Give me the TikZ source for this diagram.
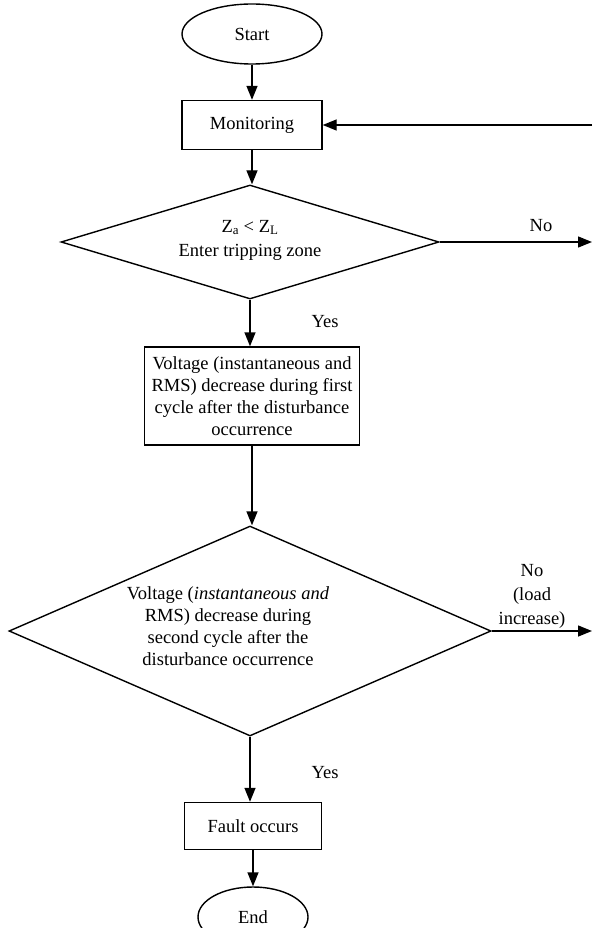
\documentclass[tikz,border=0pt]{standalone}
\usepackage{fontspec}
\setmainfont{Liberation Serif}
\usetikzlibrary{shapes.geometric,arrows.meta}
\begin{document}
\begin{tikzpicture}[x=1pt,y=-1pt,
  every node/.style={font=\fontsize{18.5}{22}\selectfont},
  term/.style={draw,ellipse,line width=1.4pt,inner sep=0pt},
  proc/.style={draw,rectangle,line width=1.4pt,inner sep=0pt,align=center},
  dec/.style={draw,diamond,line width=1.4pt,inner sep=0pt},
  txt/.style={align=center,inner sep=0pt},
  arr/.style={line width=1.4pt,-{Triangle[length=14pt,width=11pt]}}]
\useasboundingbox (0,0) rectangle (592,928);
\clip (0,0) rectangle (592,928);
% nodes
\node[term,minimum width=140pt,minimum height=60pt] (start) at (252,34) {Start};
\node[proc,minimum width=140pt,minimum height=49pt] (mon) at (252,125) {Monitoring};
\node[dec,minimum width=378pt,minimum height=114pt] (d1) at (250,242) {};
\node[txt,font=\fontsize{18.5}{24}\selectfont] (d1t) at (250,240) {Z\textsubscript{a} < Z\textsubscript{L}\\Enter tripping zone};
\node[proc,minimum width=215pt,minimum height=98pt] (b2) at (252,396) {Voltage (instantaneous and\\RMS) decrease during first\\cycle after the disturbance\\occurrence};
\node[dec,minimum width=482pt,minimum height=210pt] (d2) at (250,631) {};
\node[txt] (d2t) at (228,626) {Voltage (\textit{instantaneous and}\\RMS) decrease during\\second cycle after the\\disturbance occurrence};
\node[proc,minimum width=137pt,minimum height=47pt] (fault) at (253,826) {Fault occurs};
\node[term,minimum width=110pt,minimum height=60pt] (end) at (253,917) {End};
% free ends
\coordinate (loopin) at (592,125);
\coordinate (no1) at (592,242);
\coordinate (no2) at (592,631);
% labels
\node[txt] (nolab1) at (541,226) {No};
\node[txt] (yes1) at (325,322) {Yes};
\node[txt,font=\fontsize{18.5}{24}\selectfont] (nolab2) at (532,596) {No\\(load\\increase)};
\node[txt] (yes2) at (325,773) {Yes};
% connectors
\draw[arr] (start) -- (mon);
\draw[arr] (loopin) -- (mon);
\draw[arr] (mon) -- (mon |- d1.north);
\draw[arr] (d1.east) -- (no1);
\draw[arr] (d1.south) -- (d1.south |- b2.north);
\draw[arr] (b2) -- (b2 |- d2.north);
\draw[arr] (d2.east) -- (no2);
\draw[arr] (d2.south) -- (d2.south |- fault.north);
\draw[arr] (fault) -- (end);
\end{tikzpicture}
\end{document}
